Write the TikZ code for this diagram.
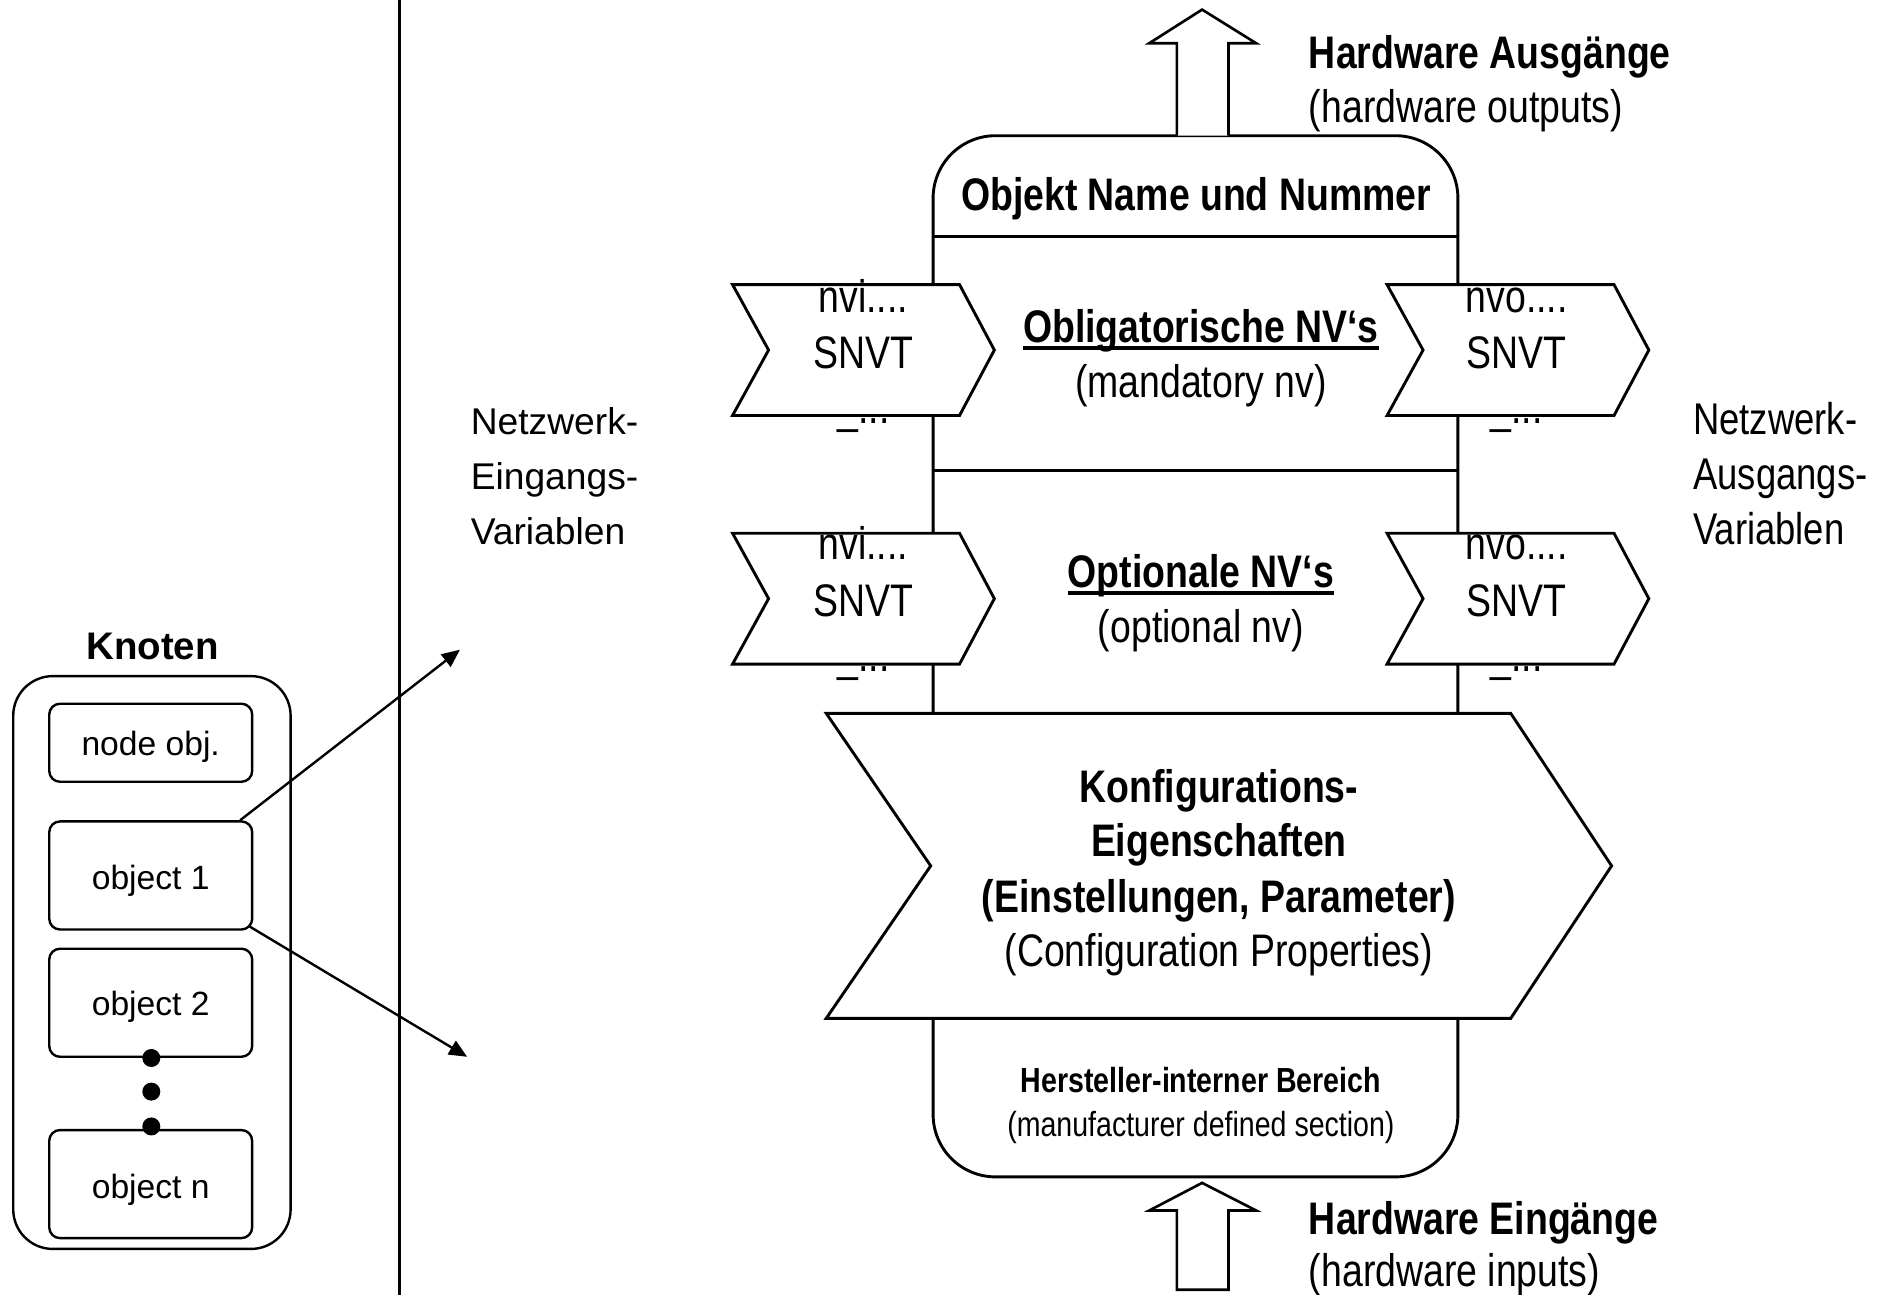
\documentclass[tikz,border=0pt]{standalone}
\usepackage{fontspec}
\setmainfont{Liberation Sans}
\newfontfamily\nar[FakeStretch=0.82]{Liberation Sans}
\usetikzlibrary{arrows.meta}
\begin{document}
\begin{tikzpicture}[x=1pt,y=-1pt,
  line width=2.4pt, line join=miter,
  lbl/.style={inner sep=0pt, outer sep=0pt, font=\nar\fontsize{38}{46}\selectfont},
  lblb/.style={inner sep=0pt, outer sep=0pt, font=\nar\bfseries\fontsize{38}{46}\selectfont},
  lbls/.style={inner sep=0pt, outer sep=0pt, font=\nar\fontsize{29}{36}\selectfont},
  lblsb/.style={inner sep=0pt, outer sep=0pt, font=\nar\bfseries\fontsize{29}{36}\selectfont},
  lblw/.style={inner sep=0pt, outer sep=0pt, font=\fontsize{31}{46}\selectfont},
  lbln/.style={inner sep=0pt, outer sep=0pt, font=\nar\fontsize{37}{46}\selectfont},
  objbox/.style={draw, rounded corners=9pt, line width=2pt, minimum width=169pt, inner sep=0pt},
  objtxt/.style={inner sep=0pt, outer sep=0pt, font=\fontsize{28}{32}\selectfont},
  dotnode/.style={circle, fill, inner sep=0pt, minimum size=15pt},
  chev/.style={draw, fill=white},
  blockarrow/.style={draw, fill=white, line width=2.2pt},
  ptr/.style={line width=2pt, -{Triangle[length=15pt,width=13pt]}},
  uline/.style={line width=3pt},
  pics/nvchev/.style={code={\draw[chev] (0,0) -- (189,0) -- (218,54.5) -- (189,109) -- (0,109) -- (30,54.5) -- cycle;}}
]
\useasboundingbox (0,0) rectangle (1568,1078);

% divider
\draw (333,0) -- (333,1078);

% Knoten
\node[inner sep=0pt, font=\bfseries\fontsize{32}{36}\selectfont, anchor=base] (knoten) at (127,549) {Knoten};
\draw[line width=2pt, rounded corners=33pt] (11,563) rectangle (242,1040);
\node[objbox, minimum height=65pt] (nobj) at (125.5,618.5) {};
\node[objbox, minimum height=90pt] (ob1) at (125.5,729) {};
\node[objbox, minimum height=90pt] (ob2) at (125.5,835) {};
\node[objbox, minimum height=90pt] (obn) at (125.5,986) {};
\node[objtxt, anchor=base] (tnobj) at (125.5,629) {node obj.};
\node[objtxt, anchor=base] (tob1) at (125.5,741) {object 1};
\node[objtxt, anchor=base] (tob2) at (125.5,846) {object 2};
\node[objtxt, anchor=base] (tobn) at (125.5,998) {object n};
\node[dotnode] (d1) at (126,881) {};
\node[dotnode] (d2) at (126,909) {};
\node[dotnode] (d3) at (126,938) {};

\coordinate (p1) at (383,541);
\coordinate (p2) at (389,880);
\draw[ptr] ([xshift=-11pt]ob1.north east) -- (p1);
\draw[ptr] ([xshift=-4pt,yshift=4pt]ob1.south east) -- (p2);

% main object box
\draw[rounded corners=52pt] (777,113) rectangle (1214,980);
\draw (777,197) -- (1214,197);
\draw (777,392) -- (1214,392);

% hardware arrows
\draw[blockarrow] (980,113) -- (980,36) -- (957,36) -- (1001,8) -- (1046,36) -- (1023,36) -- (1023,113);
\draw[blockarrow] (980,1074) -- (980,1008) -- (957,1008) -- (1001,985) -- (1046,1008) -- (1023,1008) -- (1023,1074) -- cycle;

% chevrons
\pic at (610,237) {nvchev};
\pic at (1155,237) {nvchev};
\pic at (610,444) {nvchev};
\pic at (1155,444) {nvchev};
\draw[chev] (688,594) -- (1258,594) -- (1342,721) -- (1258,848) -- (688,848) -- (775,721) -- cycle;

% texts top
\node[lblb, anchor=base west] (hwa) at (1090,57) {Hardware Ausgänge};
\node[lbl, anchor=base west] (hwa2) at (1090,102) {(hardware outputs)};
\node[lblb, anchor=base] (objname) at (996,175) {Objekt Name und Nummer};

\node[lblb, anchor=base] (obl) at (1000,285) {Obligatorische NV‘s};
\draw[uline] ([yshift=-5pt]obl.base west) -- ([yshift=-5pt]obl.base east);
\node[lbl, anchor=base] (mand) at (1000,331) {(mandatory nv)};

\node[lblb, anchor=base] (opt) at (1000,489) {Optionale NV‘s};
\draw[uline] ([yshift=-5pt]opt.base west) -- ([yshift=-5pt]opt.base east);
\node[lbl, anchor=base] (optn) at (1000,535) {(optional nv)};

% chevron texts
\node[lbl, anchor=base] (nvia) at (719,260) {nvi....};
\node[lbl, anchor=base] (nvib) at (719,307) {SNVT};
\node[lbl, anchor=base] (nvic) at (719,353) {\_...};
\node[lbl, anchor=base] (nvoa) at (1263,260) {nvo....};
\node[lbl, anchor=base] (nvob) at (1263,307) {SNVT};
\node[lbl, anchor=base] (nvoc) at (1263,353) {\_...};
\node[lbl, anchor=base] (nvid) at (719,466) {nvi....};
\node[lbl, anchor=base] (nvie) at (719,513) {SNVT};
\node[lbl, anchor=base] (nvif) at (719,559) {\_...};
\node[lbl, anchor=base] (nvod) at (1263,466) {nvo....};
\node[lbl, anchor=base] (nvoe) at (1263,513) {SNVT};
\node[lbl, anchor=base] (nvof) at (1263,559) {\_...};

% network labels
\node[lblw, anchor=base west] (nel1) at (392,362) {Netzwerk-};
\node[lblw, anchor=base west] (nel2) at (392,408) {Eingangs-};
\node[lblw, anchor=base west] (nel3) at (392,453) {Variablen};
\node[lbln, anchor=base west] (nar1) at (1410,362) {Netzwerk-};
\node[lbln, anchor=base west] (nar2) at (1410,408) {Ausgangs-};
\node[lbln, anchor=base west] (nar3) at (1410,453) {Variablen};

% configuration
\node[lblb, anchor=base] (kon1) at (1015,668) {Konfigurations-};
\node[lblb, anchor=base] (kon2) at (1015,713) {Eigenschaften};
\node[lblb, anchor=base] (kon3) at (1015,760) {(Einstellungen, Parameter)};
\node[lbl, anchor=base] (kon4) at (1015,805) {(Configuration Properties)};

% manufacturer
\node[lblsb, anchor=base] (her1) at (1000,910) {Hersteller-interner Bereich};
\node[lbls, anchor=base] (her2) at (1000,946) {(manufacturer defined section)};

% bottom
\node[lblb, anchor=base west] (hwe) at (1090,1028) {Hardware Eingänge};
\node[lbl, anchor=base west] (hwe2) at (1090,1071) {(hardware inputs)};
\end{tikzpicture}
\end{document}
